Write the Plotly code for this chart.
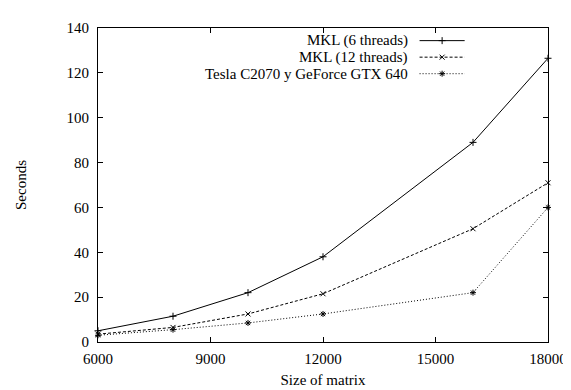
import plotly.graph_objects as go

sizes = [6000, 8000, 10000, 12000, 16000, 18000]
mkl6 = [5.0, 11.5, 22.0, 38.0, 89.0, 126.5]
mkl12 = [3.5, 6.5, 12.5, 21.5, 50.5, 71.0]
gpu = [3.0, 5.5, 8.5, 12.5, 22.0, 60.0]
names = ["MKL (6 threads)", "MKL (12 threads)", "Tesla C2070 y GeForce GTX 640"]
x_ticks = [6000, 9000, 12000, 15000, 18000]
x_labels = ["6000", "9000", "12000", "15000", "18000"]
y_ticks = [0, 20, 40, 60, 80, 100, 120, 140]

font = "Liberation Serif"
FS = 15
dashes = ["solid", "3px,2px", "1px,2px"]
symbols = ["cross-thin-open", "x-thin-open", "asterisk-open"]
series = [mkl6, mkl12, gpu]

fig = go.Figure()
for vals, d, s, n in zip(series, dashes, symbols, names):
    fig.add_trace(go.Scatter(x=sizes, y=vals, mode="lines+markers", name=n,
                             line=dict(color="black", width=1, dash=d),
                             marker=dict(symbol=s, size=5, color="black",
                                         line=dict(color="black", width=1)),
                             showlegend=False, cliponaxis=False))

# manual legend (text left of sample, like gnuplot)
L, R = 89, 548
T, B = 15, 338
W, H = 571, 390
def px(x):
    return (x - L) / (R - L)
def py(y):
    return (B - y) / (B - T)

rows = [28, 45, 62]
for yr, d, s, n in zip(rows, dashes, symbols, names):
    fig.add_annotation(x=px(407), y=py(yr), xref="paper", yref="paper",
                       text=n, showarrow=False, xanchor="right", yanchor="middle",
                       font=dict(family=font, size=FS, color="black"))
    fig.add_shape(type="line", xref="paper", yref="paper",
                  x0=px(417), x1=px(463), y0=py(yr), y1=py(yr),
                  line=dict(color="black", width=1, dash=d))
    fig.add_trace(go.Scatter(x=[px(440)], y=[py(yr)], xaxis="x2", yaxis="y2",
                             mode="markers", showlegend=False, hoverinfo="skip",
                             marker=dict(symbol=s, size=5, color="black",
                                         line=dict(color="black", width=1))))

axis_common = dict(showgrid=False, zeroline=False, showline=True, linecolor="black",
                   linewidth=1, mirror="allticks", ticks="inside", ticklen=5,
                   tickcolor="black", tickfont=dict(family=font, size=FS, color="black"))

fig.update_layout(
    width=W, height=H,
    margin=dict(l=L, r=W - R, t=T, b=H - B),
    plot_bgcolor="white", paper_bgcolor="white",
    font=dict(family=font, size=FS, color="black"),
    xaxis=dict(range=[6000, 18000], tickvals=x_ticks, ticktext=x_labels,
               ticklabelstandoff=3,
               title=dict(text="Size of matrix", standoff=8,
                          font=dict(family=font, size=FS)), **axis_common),
    yaxis=dict(range=[0, 140], tickvals=y_ticks, ticklabelstandoff=5,
               title=dict(text="Seconds", standoff=36,
                          font=dict(family=font, size=FS)), **axis_common),
    xaxis2=dict(range=[0, 1], overlaying="x", visible=False, fixedrange=True),
    yaxis2=dict(range=[0, 1], overlaying="y", visible=False, fixedrange=True),
    showlegend=False,
)

fig.write_html("out.html")
